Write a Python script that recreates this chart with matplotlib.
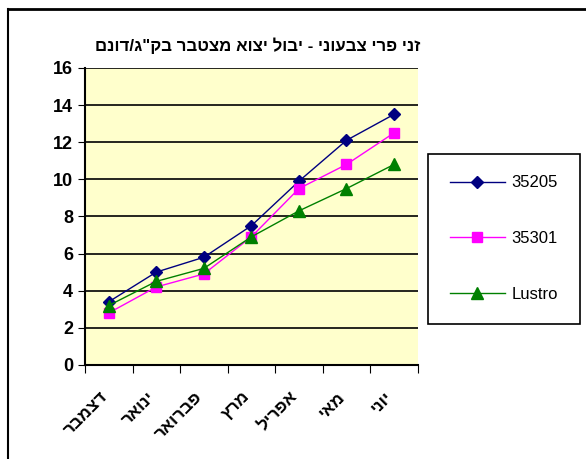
"""Cumulative export yield per variety, Dec-Jun."""

import matplotlib.pyplot as plt
from matplotlib.lines import Line2D

plt.rcParams["font.family"] = ["Liberation Sans", "DejaVu Sans"]

title = "זני פרי צבעוני - יבול יצוא מצטבר בק\"ג/דונם"
months = ["דצמבר", "ינואר", "פברואר", "מרץ", "אפריל", "מאי", "יוני"]

v35205 = [3.4, 5.0, 5.8, 7.5, 9.9, 12.1, 13.5]
v35301 = [2.8, 4.2, 4.9, 6.9, 9.5, 10.8, 12.5]
lustro = [3.2, 4.5, 5.2, 6.9, 8.3, 9.5, 10.8]


def rtl(s):
    # matplotlib has no bidi, so feed hebrew in visual order
    return s[::-1]


fig = plt.figure(figsize=(5.86, 4.59), dpi=100)
ax = fig.add_axes([0.145, 0.205, 0.568, 0.647])
ax.set_facecolor("#FFFFCC")

x = list(range(len(months)))
series = [
    (v35205, "35205", "#000080", "D", 6),
    (v35301, "35301", "#FF00FF", "s", 7),
    (lustro, "Lustro", "#008000", "^", 9),
]
for vals, name, col, mk, ms in series:
    ax.plot(x, vals, color=col, lw=1, marker=mk, ms=ms, label=name,
            markeredgecolor=col, markerfacecolor=col)

ax.set_xlim(-0.5, len(months) - 0.5)
ax.set_ylim(0, 16)
ax.set_yticks(range(0, 17, 2))
ax.yaxis.grid(True, color="black", lw=1.2)
ax.set_axisbelow(True)
ax.tick_params(axis="y", labelsize=13, length=5, direction="out")
for t in ax.get_yticklabels():
    t.set_fontweight("bold")

ax.set_xticks([i + 0.5 for i in range(-1, len(months))], minor=False)
ax.set_xticklabels([])
ax.tick_params(axis="x", length=6, direction="out")
for i, m in enumerate(months):
    ax.text(i - 0.2, -1.3, rtl(m), rotation=45, ha="right", va="top",
            rotation_mode="anchor", fontsize=12.5, fontweight="bold",
            transform=ax.transData, clip_on=False)

for sp in ["top", "right"]:
    ax.spines[sp].set_visible(False)
ax.spines["left"].set_linewidth(1.5)
ax.spines["bottom"].set_linewidth(1.5)

fig.text(0.439, 0.9, rtl(title), ha="center", va="center",
         fontsize=12.2, fontweight="bold")

leg = fig.legend(loc="center", bbox_to_anchor=(0.86, 0.48), fontsize=12,
                 labelspacing=2.45, handlelength=3.3, handletextpad=0.4,
                 borderpad=1.3, borderaxespad=0, fancybox=False,
                 framealpha=1, edgecolor="black")
leg.get_frame().set_linewidth(1.2)

# chart area border (top and left visible)
fig.add_artist(Line2D([8 / 586, 1], [1 - 9 / 459] * 2, color="black", lw=2,
                      transform=fig.transFigure))
fig.add_artist(Line2D([8 / 586] * 2, [0, 1 - 9 / 459], color="black", lw=1.5,
                      transform=fig.transFigure))

fig.savefig("out.png", dpi=100)
